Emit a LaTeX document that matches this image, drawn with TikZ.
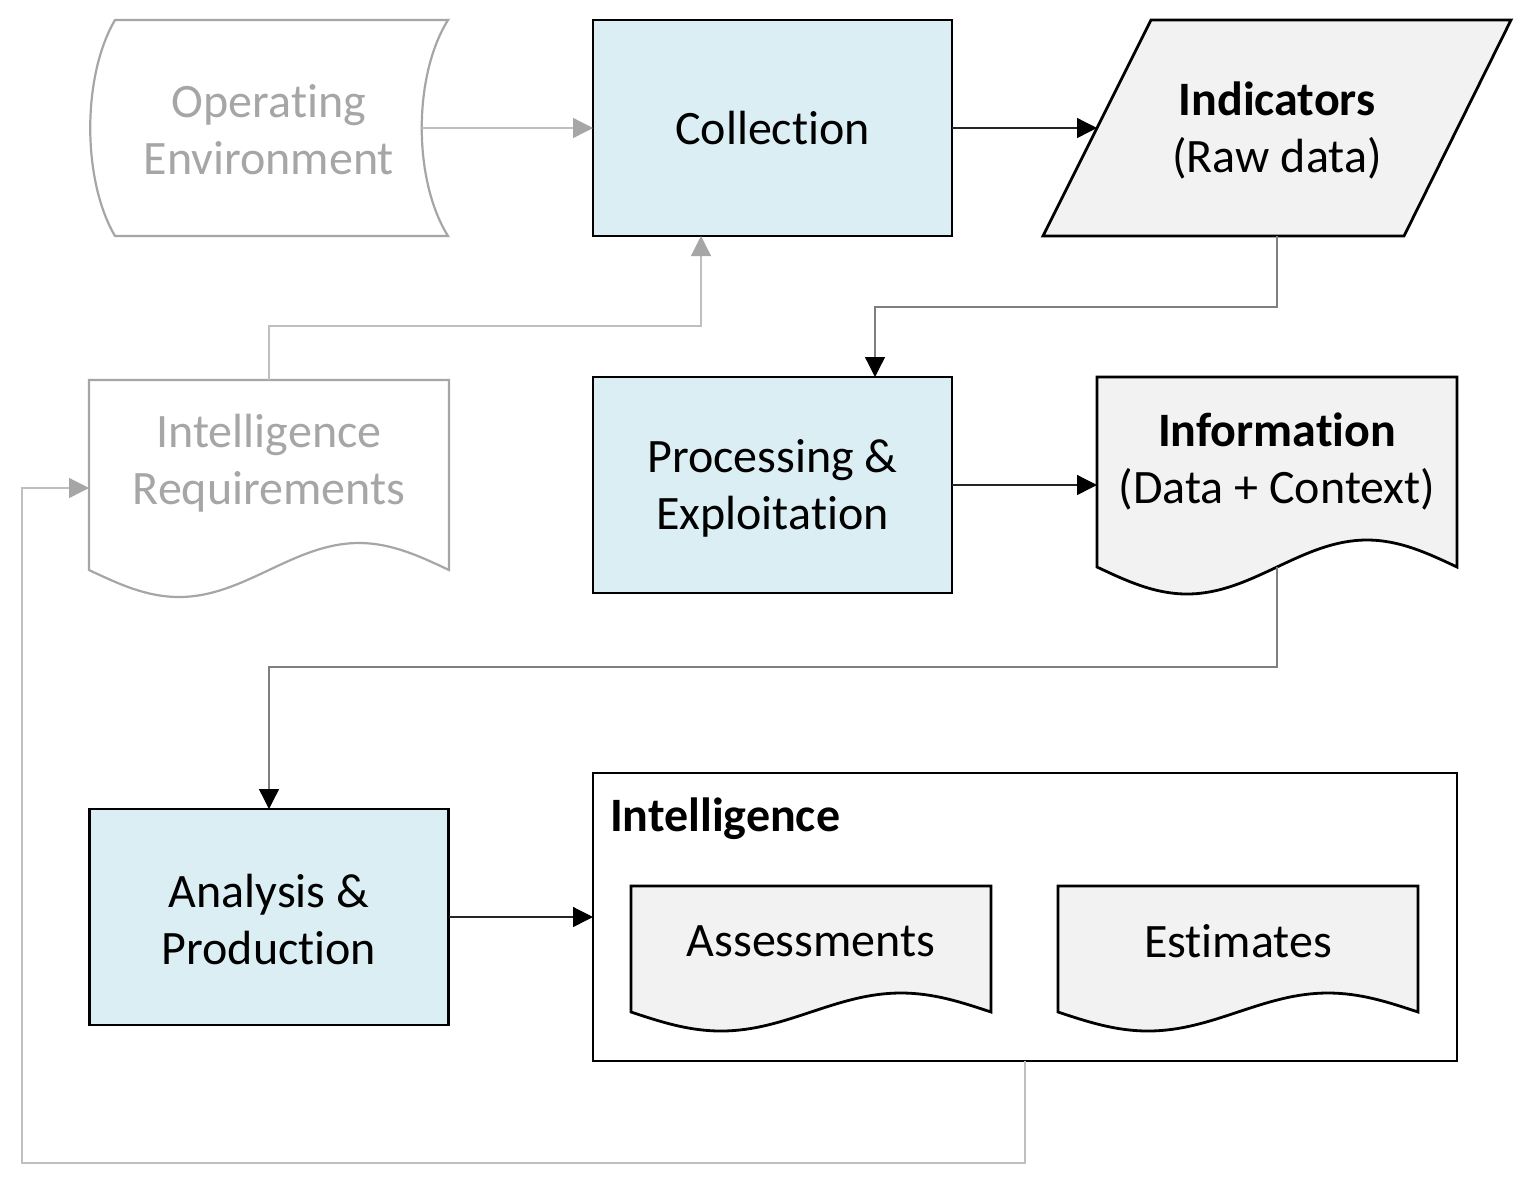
\documentclass[tikz,border=0pt]{standalone}
\usepackage{fontspec}
\setmainfont{Carlito}[Ligatures={NoCommon,NoContextual}]
\usetikzlibrary{arrows.meta}
\definecolor{procfill}{HTML}{DAEEF3}
\definecolor{docfill}{HTML}{F2F2F2}
\definecolor{ghost}{HTML}{A6A6A6}
\definecolor{ghostline}{HTML}{BFBFBF}
\definecolor{midline}{HTML}{7F7F7F}
\definecolor{darkline}{HTML}{262626}
\newcommand\nolig{\kern0pt }
\begin{document}
\begin{tikzpicture}[x=0.5pt,y=-0.5pt,
  every node/.style={font=\fontsize{24}{28.5}\selectfont, inner sep=0pt, outer sep=0pt},
  procbox/.style={draw=black, line width=1.4pt, fill=procfill, minimum width=179.5pt, minimum height=108pt, align=center},
  docshape/.style={draw=black, line width=1.4pt, fill=docfill},
  ghostshape/.style={draw=ghost, line width=1.1pt, fill=white},
  ghosttext/.style={text=ghost, align=center},
  darktext/.style={text=black, align=center},
  conn/.style={draw=darkline, line width=0.65pt, -{Triangle[length=10pt,width=10pt,color=black]}},
  midconn/.style={draw=midline, line width=0.65pt, -{Triangle[length=10pt,width=10pt,color=black]}},
  ghostconn/.style={draw=ghostline, line width=0.65pt, -{Triangle[length=10pt,width=10pt,color=ghost]}}
]
\useasboundingbox[fill=white] (0,0) rectangle (1532,1185);

% Operating Environment (stored data shape)
\path[ghostshape] (115,20) -- (448,20) .. controls (413,76) and (413,180) .. (448,236)
  -- (115,236) .. controls (82,180) and (82,76) .. (115,20) -- cycle;
\node[ghosttext] (oe) at (269,130) {Operat\nolig ing\\Environment};
\coordinate (oeR) at (422,128);

% Collection
\node[procbox] (coll) at (772.5,128) {Collec\nolig tion};
\coordinate (collIn) at (701,236);

% Indicators (parallelogram)
\path[docshape] (1151,20) -- (1511,20) -- (1404,236) -- (1043,236) -- cycle;
\node[darktext] (ind) at (1277,130) {\textbf{Indicators}\\(Raw data)};
\coordinate (indW) at (1097,128);
\coordinate (indS) at (1277,236);

% Intelligence Requirements (document)
\path[ghostshape] (89,380) -- (449,380) -- (449,570) sin (359,543) cos (269,570)
  sin (179,597) cos (89,570) -- cycle;
\node[ghosttext] (ir) at (269,463) {Intelligence\\Requirements};
\coordinate (irN) at (269,380);
\coordinate (irW) at (89,488);

% Processing & Exploitation
\node[procbox] (proc) at (772.5,485) {};
\node[darktext] (proctext) at (772.5,488) {Processing \&\\Exploita\nolig tion};
\coordinate (procIn) at (875,377);

% Information (document)
\path[docshape] (1097,377) -- (1457,377) -- (1457,567) sin (1367,540) cos (1277,567)
  sin (1187,594) cos (1097,567) -- cycle;
\node[darktext] (info) at (1277,461) {\textbf{Information}\\(Data + Context)};
\coordinate (infoW) at (1097,485);
\coordinate (infoS) at (1277,567);

% Analysis & Production
\node[procbox] (anal) at (269,917) {};
\node[darktext] (analtext) at (269,919) {Analysis \&\\Production};

% Intelligence container
\node[draw=black, line width=1.4pt, fill=white, minimum width=432pt, minimum height=144pt] (intel) at (1025,917) {};
\node[anchor=west, font=\fontsize{24}{28.5}\selectfont\bfseries] (inteltitle) at (610,819) {Intelligence};

% Assessments
\path[docshape] (631,886) -- (991,886) -- (991,1012) sin (901,993) cos (811,1012)
  sin (721,1031) cos (631,1012) -- cycle;
\node[darktext] (assess) at (811,941) {Assessments};

% Estimates
\path[docshape] (1058,886) -- (1418,886) -- (1418,1012) sin (1328,993) cos (1238,1012)
  sin (1148,1031) cos (1058,1012) -- cycle;
\node[darktext] (estim) at (1238,941) {Estimates};

% Connectors
\draw[ghostconn] (oeR) -- (coll.west);
\draw[conn] (coll.east) -- (indW);
\draw[midconn] (indS) -- (1277,307) -| (procIn);
\draw[conn] (proc.east) -- (infoW);
\draw[midconn] (infoS) -- (1277,667) -| (anal.north);
\draw[conn] (anal.east) -- (intel.west);
\draw[ghostconn] (irN) -- (269,326) -| (collIn);
\draw[ghostconn] (intel.south) -- (1025,1163) -- (22,1163) -- (22,488) -- (irW);
\end{tikzpicture}
\end{document}
